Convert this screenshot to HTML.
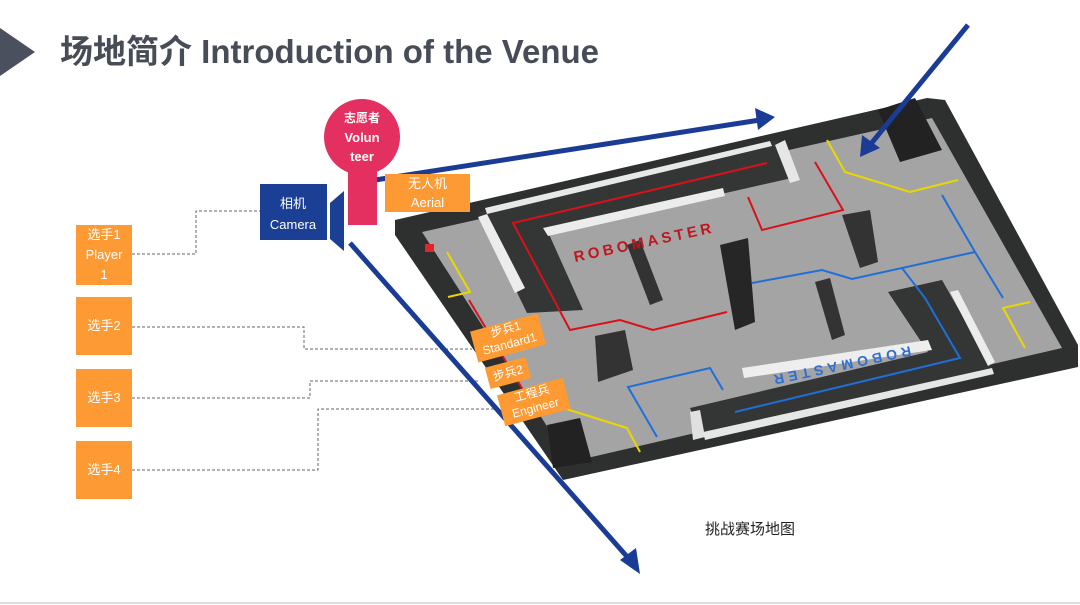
<!DOCTYPE html>
<html><head><meta charset="utf-8">
<style>
html,body{margin:0;padding:0;background:#fff;}
body{width:1080px;height:605px;position:relative;overflow:hidden;font-family:"Liberation Sans","Noto Sans CJK SC",sans-serif;}
.t{position:absolute;left:60px;top:32px;font-size:33px;font-weight:bold;color:#474c57;white-space:nowrap;line-height:40px;}
.ob{position:absolute;background:#fd9a33;color:#fff;font-size:13px;text-align:center;display:flex;flex-direction:column;justify-content:center;line-height:20px;}
.rl{position:absolute;background:#fd9a33;color:#fff;font-size:12px;text-align:center;line-height:15px;transform-origin:center;}
</style></head><body>
<svg width="1080" height="605" style="position:absolute;left:0;top:0">
<polygon points="0,28 35,52 0,76" fill="#4b505e"/>
<line x1="0" y1="603" x2="1080" y2="603" stroke="#ddd" stroke-width="2"/>
<polygon points="395,220 927,98 945,100 1078,345 1078,367 563,480 395,235" fill="#2d302f"/>
<polygon points="422,232 932,118 1062,348 570,462" fill="#a4a4a4"/>
<polygon points="478,212 778,140 792,178 730,192 548,232 583,310 527,313" fill="#333635"/>
<polygon points="485,208 770,141 772,146 487,214" fill="#e8e8e8"/>
<polygon points="478,217 487,214 525,288 515,293" fill="#ececec"/>
<polygon points="543,228 723,188 725,196 548,236" fill="#ececec"/>
<polygon points="775,145 785,140 800,180 790,183" fill="#e6e6e6"/>
<polygon points="888,292 942,280 992,368 700,432 690,408 928,352" fill="#333635"/>
<polygon points="742,368 928,340 932,350 744,378" fill="#eeeeee"/>
<polygon points="950,292 958,290 995,362 988,366" fill="#ececec"/>
<polygon points="690,412 700,410 705,437 693,440" fill="#e0e0e0"/>
<polygon points="703,432 992,368 994,374 705,440" fill="#e6e6e6"/>
<polygon points="842,215 870,210 878,262 860,268" fill="#333"/>
<polygon points="815,282 830,278 845,335 832,340" fill="#333"/>
<polygon points="627,245 640,240 663,300 650,305" fill="#333"/>
<polygon points="595,336 625,330 633,370 598,382" fill="#333"/>
<polygon points="720,245 748,238 755,322 735,330" fill="#262626"/>
<polygon points="878,110 915,98 942,150 900,162" fill="#222"/>
<polygon points="547,425 580,418 592,462 553,468" fill="#222"/>
<g fill="none" stroke="#d8111b" stroke-width="2">
<polyline points="767,163 513,223 570,330 620,320 653,330 727,312"/>
<polyline points="469,300 523,390"/>
<polyline points="748,197 762,230 843,210 815,162"/>
</g>
<g fill="none" stroke="#1f6fd8" stroke-width="2">
<polyline points="752,283 822,270 852,279 975,252"/>
<polyline points="942,195 975,252 1003,298"/>
<polyline points="902,268 925,298 960,358 735,412"/>
<polyline points="657,437 628,387 710,368 723,390"/>
</g>
<g fill="none" stroke="#e8d800" stroke-width="2">
<polyline points="447,252 470,292 448,297"/>
<polyline points="827,140 845,172 910,192 958,180"/>
<polyline points="1030,302 1003,308 1025,348"/>
<polyline points="560,407 627,428 640,452"/>
</g>
<rect x="425" y="244" width="9" height="8" fill="#e0252b"/>
<text x="575" y="262" font-size="15" font-weight="bold" fill="#c0161e" font-family="Liberation Sans" transform="rotate(-12 575 262)" textLength="140">ROBOMASTER</text>
<text x="910" y="346" font-size="14" font-weight="bold" fill="#2f6fd0" font-family="Liberation Sans" transform="rotate(168 910 346)" textLength="140">ROBOMASTER</text>
<g fill="none" stroke="#666" stroke-width="1" stroke-dasharray="3,2">
<polyline points="132,254 196,254 196,211 260,211"/>
<polyline points="132,327 304,327 304,349 472,349"/>
<polyline points="132,398 310,398 310,381 478,381"/>
<polyline points="132,470 318,470 318,409 502,409"/>
</g>
<g stroke="#1a3c94" stroke-width="5" fill="#1a3c94">
<line x1="375" y1="180" x2="760" y2="120"/>
<line x1="968" y1="25" x2="870" y2="145"/>
<line x1="350" y1="243" x2="630" y2="560"/>
</g>
<polygon points="775,117 755,108 758,130" fill="#1a3c94"/>
<polygon points="860,157 862,135 880,148" fill="#1a3c94"/>
<polygon points="640,574 620,560 636,548" fill="#1a3c94"/>
<rect x="260" y="184" width="67" height="56" fill="#1b3f94"/>
<polygon points="330,203 344,191 344,251 330,239" fill="#1b3f94"/>
<circle cx="362" cy="137" r="38" fill="#e33060"/>
<rect x="348" y="160" width="29" height="65" fill="#e33060"/>
<text x="362" y="122" font-size="12" font-weight="bold" fill="#fff" text-anchor="middle">志愿者</text>
<text x="362" y="142" font-size="13" font-weight="bold" fill="#fff" text-anchor="middle">Volun</text>
<text x="362" y="161" font-size="13" font-weight="bold" fill="#fff" text-anchor="middle">teer</text>
<text x="293" y="208" font-size="13" fill="#fff" text-anchor="middle">相机</text>
<text x="293" y="229" font-size="13" fill="#fff" text-anchor="middle">Camera</text>
</svg>
<div class="t">场地简介 Introduction of the Venue</div>
<div class="ob" style="left:385px;top:174px;width:85px;height:38px;line-height:19px;">无人机<br>Aerial</div>
<div class="ob" style="left:76px;top:225px;width:56px;height:60px;">选手1<br>Player<br>1</div>
<div class="ob" style="left:76px;top:297px;width:56px;height:58px;">选手2</div>
<div class="ob" style="left:76px;top:369px;width:56px;height:58px;">选手3</div>
<div class="ob" style="left:76px;top:441px;width:56px;height:58px;">选手4</div>
<div class="rl" style="left:473px;top:322px;width:70px;height:32px;transform:rotate(-15deg);">步兵1<br>Standard1</div>
<div class="rl" style="left:487px;top:362px;width:42px;height:22px;line-height:22px;transform:rotate(-15deg);">步兵2</div>
<div class="rl" style="left:500px;top:386px;width:68px;height:32px;transform:rotate(-15deg);">工程兵<br>Engineer</div>
<div style="position:absolute;left:705px;top:518px;font-size:15px;color:#222;">挑战赛场地图</div>
</body></html>
